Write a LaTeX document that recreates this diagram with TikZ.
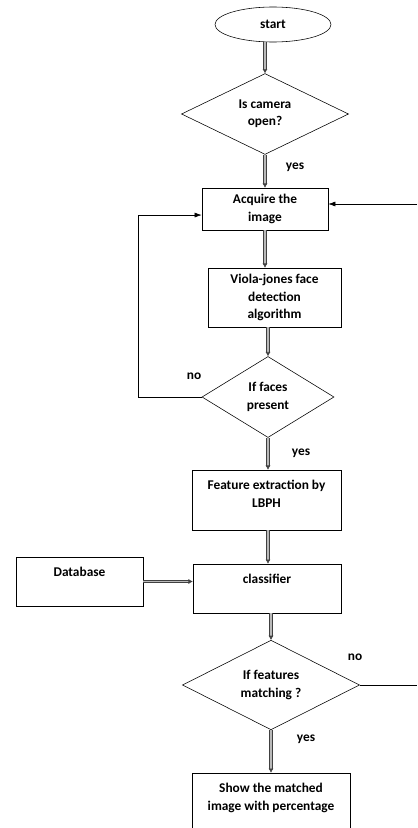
\documentclass[tikz,border=0pt]{standalone}
\usepackage{fontspec}
\setmainfont{Carlito}
\usetikzlibrary{
    arrows.meta,
    shapes.geometric,
    calc
}
\tikzset{
    every node/.style={font=\bfseries\fontsize{9.5}{12.4}\selectfont, align=center},
    box/.style={draw, thin, rectangle, inner sep=0pt},
    decision/.style={draw, thin, diamond, inner sep=0pt},
    dbl/.style={draw=black!75, double=gray!55, double distance=1.4pt, thin, -{Latex[length=3pt,width=3.5pt]}},
    arr/.style={thin, -{Latex[length=5pt,width=3.5pt]}},
}

\begin{document}
\begin{tikzpicture}[x=0.025cm, y=-0.025cm]
    \useasboundingbox (0,0) rectangle (417,828);
    % shapes
    \node[draw, thin, ellipse, minimum width=2.9cm, minimum height=0.875cm] (start) at (273,24.5) {start};
    \node[decision, minimum width=4.175cm, minimum height=1.95cm] (cam) at (265,114) {Is camera\\open?};
    \node[box, minimum width=3.15cm, minimum height=1.05cm] (acq) at (265,209) {Acquire the\\image};
    \node[box, minimum width=3.325cm, minimum height=1.475cm] (vj) at (274.5,297.5) {Viola-jones face\\detection\\algorithm};
    \node[decision, minimum width=3.3cm, minimum height=2.025cm] (faces) at (268,397) {If faces\\present};
    \node[box, minimum width=3.725cm, minimum height=1.5cm] (lbph) at (266.5,500) {};
    \node[anchor=north] (lbphtxt) at ([yshift=-4pt]lbph.north) {Feature extraction by\\LBPH};
    \node[box, minimum width=3.7cm, minimum height=1.225cm] (cls) at (267,588.5) {};
    \node[anchor=north] (clstxt) at ([yshift=-4pt]cls.north) {classifier};
    \node[box, minimum width=3.175cm, minimum height=1.225cm] (db) at (79.5,581.5) {};
    \node[anchor=north] (dbtxt) at ([yshift=-4pt]db.north) {Database};
    \node[decision, minimum width=4.425cm, minimum height=2.1cm] (match) at (271,685) {If features\\matching ?};
    \node[box, minimum width=3.95cm, minimum height=1.5cm] (show) at (271,803) {};
    \node[anchor=north] (showtxt) at ([yshift=-4pt]show.north) {Show the matched\\image with percentage};
    \coordinate (lp) at (138,0);
    \coordinate (r1) at (417,204);
    % connectors
    \draw[dbl] (cam.north |- start.south) -- (cam.north);
    \draw[dbl] (cam.south) -- (cam.south |- acq.north);
    \draw[dbl] (acq.south) -- (acq.south |- vj.north);
    \draw[dbl] (faces.north |- vj.south) -- (faces.north);
    \draw[dbl] (faces.south) -- (faces.south |- lbph.north);
    \draw[dbl] (faces.south |- lbph.south) -- (faces.south |- cls.north);
    \draw[dbl] (match.north |- cls.south) -- (match.north);
    \draw[dbl] (match.south) -- (match.south |- show.north);
    \draw[dbl] (db.east) -- (db.east -| cls.west);
    \draw[arr] (faces.west) -- (faces.west -| lp) |- ([yshift=-4.3pt]acq.west);
    \draw[arr] (r1) -- (r1 -| acq.east);
    \draw[thin] (match.east) -- (match.east -| r1);
    % labels
    \node (yes1) at (295,167) {yes};
    \node (no1) at (194,376) {no};
    \node (yes2) at (301,453) {yes};
    \node (no2) at (355,657) {no};
    \node (yes3) at (306,739) {yes};
\end{tikzpicture}
\end{document}
